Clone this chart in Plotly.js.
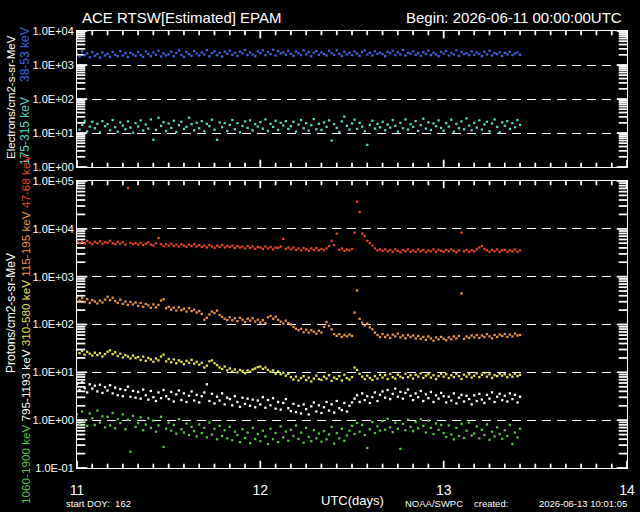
<!DOCTYPE html>
<html><head><meta charset="utf-8">
<script src="https://cdn.plot.ly/plotly-3.0.1.min.js"></script>
<style>html,body{margin:0;padding:0;background:#000}#chart{width:640px;height:512px}</style>
</head><body><div id="chart"></div>
<script>
// Time base: samples every 20 minutes starting 2026-06-11 00:00 UTC (day 11)
const startDay = 11;
const stepDays = 1 / 72;

// log10 of differential flux
const elec38_53 = [
 3.36,3.25,3.40,3.29,3.34,3.23,3.38,3.27,3.32,3.22,3.37,3.28,
 3.33,3.24,3.39,3.30,3.26,3.41,3.28,3.35,3.23,3.36,3.31,3.27,
 3.38,3.29,3.24,3.40,3.33,3.26,3.37,3.30,3.42,3.25,3.34,3.28,
 3.31,3.39,3.26,3.35,3.43,3.29,3.24,3.38,3.32,3.27,3.41,3.34,
 3.28,3.37,3.31,3.44,3.26,3.35,3.40,3.29,3.36,3.25,3.39,3.33,
 3.42,3.30,3.36,3.27,3.39,3.34,3.44,3.29,3.37,3.31,3.26,3.40,
 3.35,3.43,3.29,3.38,3.32,3.45,3.28,3.41,3.34,3.37,3.30,3.42,
 3.33,3.27,3.40,3.35,3.29,3.43,3.31,3.38,3.26,3.36,3.41,3.30,
 3.37,3.32,3.28,3.42,3.35,3.30,3.44,3.33,3.27,3.39,3.31,3.36,
 3.29,3.40,3.34,3.27,3.38,3.43,3.31,3.36,3.28,3.41,3.33,3.37,
 3.32,3.26,3.39,3.35,3.42,3.29,3.37,3.31,3.44,3.28,3.36,3.33,
 3.40,3.30,3.35,3.27,3.38,3.33,3.42,3.29,3.36,3.31,3.26,3.39,
 3.34,3.41,3.28,3.36,3.31,3.43,3.27,3.38,3.32,3.35,3.29,3.40,
 3.30,3.37,3.33,3.26,3.39,3.31,3.42,3.28,3.35,3.32,3.38,3.27,
 3.36,3.31,3.39,3.29,3.34,3.37,3.30
];
const elec175_315 = [
 1.30,1.10,1.24,1.36,1.05,1.19,1.33,1.14,1.27,1.02,1.35,1.20,
 1.26,1.08,1.38,1.17,1.04,1.31,1.22,1.11,1.34,1.16,1.01,1.29,
 1.19,1.37,1.07,1.25,1.13,1.40,0.80,1.09,1.45,1.21,1.32,1.06,
 1.28,1.15,1.36,1.03,1.23,1.33,1.12,1.18,1.45,1.26,1.08,1.30,
 1.14,1.35,1.05,1.27,1.20,1.39,1.10,0.80,1.31,1.17,1.29,1.06,
 1.24,1.38,1.11,1.29,1.02,1.21,1.34,1.15,1.37,1.08,1.26,1.19,
 1.32,1.13,1.40,1.06,1.27,1.18,1.36,1.09,1.30,1.22,1.35,1.12,
 1.20,1.33,1.04,1.25,1.38,1.14,1.29,1.07,1.23,1.41,1.11,1.27,
 1.09,1.31,1.18,1.37,0.78,1.26,1.15,1.03,1.34,1.48,1.21,1.10,
 1.28,1.39,1.12,1.30,1.19,1.05,0.65,1.24,1.36,1.13,1.27,1.17,
 1.33,1.08,1.25,1.16,1.38,1.21,1.04,1.30,1.14,1.40,1.10,1.26,
 1.18,1.35,1.06,1.23,1.42,1.13,1.31,1.09,1.28,1.20,1.37,1.15,
 1.07,1.29,1.19,1.39,1.04,1.27,1.14,1.34,1.11,1.43,1.22,1.08,
 1.30,1.16,1.37,1.10,1.25,1.33,1.05,1.28,1.40,1.18,1.02,1.31,
 1.21,1.35,1.12,1.29,1.17,1.38,1.24
];
const prot47_68 = [
 3.74,3.70,3.73,3.69,3.75,3.71,3.68,3.73,3.70,3.74,3.69,3.72,
 3.71,3.75,3.70,3.68,3.73,3.69,3.72,3.67,4.85,3.71,3.68,3.70,
 3.67,3.71,3.66,3.69,3.72,3.67,3.65,3.70,3.81,3.68,3.64,3.68,
 3.65,3.69,3.64,3.67,3.63,3.68,3.65,3.62,3.67,3.64,3.68,3.63,
 3.66,3.62,3.65,3.61,3.66,3.63,3.60,3.65,3.62,3.66,3.61,3.64,
 3.62,3.65,3.60,3.64,3.61,3.63,3.59,3.64,3.60,3.63,3.58,3.62,
 3.61,3.58,3.63,3.59,3.62,3.57,3.61,3.60,3.63,3.79,3.58,3.61,
 3.57,3.61,3.56,3.59,3.55,3.60,3.57,3.54,3.59,3.56,3.60,3.55,
 3.58,3.55,3.59,3.64,3.75,3.66,3.90,3.56,3.59,3.54,3.57,3.55,
 3.58,3.92,4.57,4.35,3.90,3.85,3.75,3.70,3.65,3.59,3.55,3.57,
 3.54,3.57,3.53,3.56,3.52,3.57,3.54,3.51,3.56,3.53,3.57,3.52,
 3.55,3.52,3.57,3.53,3.56,3.51,3.55,3.53,3.57,3.52,3.56,3.54,
 3.52,3.56,3.53,3.57,3.54,3.51,3.55,3.92,3.53,3.56,3.52,3.55,
 3.53,3.57,3.61,3.64,3.58,3.55,3.52,3.56,3.53,3.57,3.52,3.55,
 3.56,3.52,3.55,3.53,3.57,3.52,3.55
];
const prot115_195 = [
 2.57,2.50,2.55,2.47,2.53,2.45,2.51,2.48,2.44,2.50,2.46,2.52,
 2.58,2.51,2.56,2.49,2.45,2.52,2.43,2.48,2.41,2.47,2.42,2.46,
 2.39,2.45,2.37,2.43,2.40,2.35,2.42,2.36,2.41,2.50,2.53,2.34,
 2.37,2.31,2.35,2.29,2.36,2.30,2.33,2.27,2.34,2.28,2.31,2.25,
 2.28,2.22,2.10,2.14,2.21,2.27,2.24,2.29,2.20,2.16,2.12,2.09,
 2.15,2.09,2.13,2.07,2.14,2.10,2.05,2.12,2.08,2.13,2.06,2.10,
 2.04,2.09,2.03,2.15,2.18,2.12,2.16,2.10,2.06,2.02,2.08,2.03,
 2.00,1.95,1.91,1.88,1.91,1.84,1.89,1.83,1.88,1.85,1.81,1.87,
 1.83,1.95,2.05,1.97,1.90,1.80,1.76,1.80,1.74,1.78,1.75,1.79,
 1.76,2.25,2.71,2.12,2.04,1.98,2.02,1.94,1.90,1.83,1.78,1.74,
 1.80,1.74,1.78,1.72,1.79,1.75,1.81,1.73,1.77,1.71,1.78,1.74,
 1.77,1.71,1.76,1.70,1.74,1.68,1.75,1.71,1.66,1.73,1.69,1.74,
 1.70,1.67,1.73,1.69,1.75,1.71,1.76,2.65,1.70,1.75,1.72,1.77,
 1.73,1.78,1.72,1.77,1.74,1.80,1.75,1.71,1.78,1.74,1.79,1.76,
 1.80,1.74,1.79,1.75,1.81,1.77,1.78
];
const prot310_580 = [
 1.47,1.40,1.45,1.37,1.43,1.39,1.35,1.41,1.36,1.40,1.33,1.38,
 1.43,1.46,1.38,1.42,1.34,1.39,1.31,1.36,1.33,1.29,1.35,1.30,
 1.32,1.26,1.33,1.24,1.30,1.27,1.22,1.29,1.25,1.33,1.37,1.23,
 1.28,1.21,1.27,1.19,1.25,1.22,1.17,1.24,1.20,1.26,1.18,1.22,
 1.16,1.20,1.10,1.14,1.23,1.25,1.19,1.15,1.10,1.07,1.12,1.04,
 1.08,1.02,1.06,1.00,1.05,1.03,0.98,1.04,1.01,1.06,1.08,1.11,
 1.12,1.07,1.10,1.05,1.01,1.04,0.97,1.02,0.96,0.99,0.93,0.97,
 0.90,0.85,0.91,0.83,0.88,0.92,0.84,0.89,0.81,0.87,0.93,0.86,
 0.84,0.91,0.87,0.94,0.82,0.89,0.86,0.92,0.83,0.95,0.88,0.85,
 0.90,1.10,1.05,0.97,0.91,0.86,0.93,0.88,0.84,0.92,0.87,0.95,
 0.89,0.94,0.86,0.97,0.90,0.87,0.95,0.91,0.88,0.97,0.90,0.94,
 0.87,0.95,0.91,0.98,0.88,0.93,0.96,0.89,0.94,0.86,0.92,0.97,
 0.91,0.96,0.88,0.94,0.90,0.97,0.92,0.86,0.95,0.91,0.96,0.89,
 0.93,0.98,0.90,0.95,0.99,0.91,0.96,0.88,0.94,0.92,0.97,0.93,
 0.96,0.90,0.95,0.91,0.97,0.92,0.95
];
const prot795_1193 = [
 0.76,0.63,0.79,0.67,0.58,0.75,0.66,0.72,0.60,0.74,0.57,0.69,
 0.62,0.73,0.56,0.68,0.52,0.65,0.50,0.63,0.70,0.49,0.61,0.47,
 0.59,0.45,0.64,0.52,0.43,0.61,0.48,0.40,0.58,0.46,0.63,0.50,
 0.44,0.59,0.39,0.54,0.62,0.42,0.56,0.38,0.51,0.60,0.41,0.53,
 0.37,0.50,0.58,0.75,0.40,0.55,0.35,0.49,0.41,0.56,0.33,0.47,
 0.44,0.31,0.50,0.38,0.28,0.47,0.34,0.45,0.30,0.43,0.27,0.41,
 0.33,0.48,0.26,0.42,0.31,0.46,0.24,0.38,0.22,0.36,0.44,0.25,
 0.19,0.34,0.17,0.30,0.14,0.33,0.23,0.12,0.29,0.37,0.18,0.31,
 0.15,0.27,0.38,0.20,0.33,0.16,0.40,0.25,0.21,0.36,0.18,0.30,
 0.37,0.45,0.52,0.38,0.56,0.42,0.50,0.36,0.48,0.58,0.40,0.53,
 0.60,0.47,0.63,0.44,0.55,0.66,0.49,0.59,0.45,0.57,0.64,0.51,
 0.42,0.56,0.48,0.61,0.40,0.54,0.46,0.59,0.38,0.52,0.45,0.57,
 0.50,0.37,0.49,0.41,0.56,0.35,0.47,0.53,0.39,0.51,0.44,0.33,
 0.52,0.40,0.55,0.43,0.36,0.53,0.45,0.58,0.38,0.49,0.55,0.42,
 0.51,0.39,0.56,0.44,0.53,0.37,0.49
];
const prot1060_1900 = [
 0.12,-0.08,0.18,-0.02,-0.12,0.14,0.04,-0.10,0.20,-0.05,0.08,-0.15,
 0.07,-0.11,0.15,-0.17,0.02,-0.06,0.12,-0.19,0.01,-0.66,0.09,-0.14,
 -0.06,0.06,-0.21,-0.09,0.04,-0.16,-0.01,-0.24,-0.11,0.07,-0.56,-0.18,
 -0.05,-0.22,-0.10,-0.28,0.02,-0.19,-0.26,-0.07,-0.31,-0.14,-0.23,-0.34,
 -0.09,-0.27,-0.16,-0.36,-0.05,-0.30,-0.18,-0.40,-0.12,-0.33,-0.21,-0.38,
 -0.14,-0.42,-0.24,-0.31,-0.46,-0.19,-0.37,-0.26,-0.48,-0.16,-0.39,-0.29,
 -0.44,-0.22,-0.34,-0.50,-0.18,-0.40,-0.27,-0.46,-0.13,-0.36,-0.24,-0.43,
 -0.20,-0.33,-0.11,-0.39,-0.26,-0.47,-0.16,-0.35,-0.44,-0.21,-0.38,-0.28,
 -0.45,-0.23,-0.40,-0.30,-0.14,-0.49,-0.27,-0.38,-0.18,-0.43,-0.32,-0.22,
 -0.12,-0.29,-0.06,-0.24,-0.10,-0.31,-0.58,-0.19,-0.04,-0.27,-0.13,-0.22,
 -0.02,-0.20,0.03,-0.15,-0.25,-0.05,-0.18,-0.60,-0.08,-0.21,0.01,-0.14,
 -0.23,-0.04,-0.17,0.02,-0.12,-0.26,-0.01,-0.16,-0.29,-0.07,-0.20,-0.10,
 -0.27,-0.35,-0.11,-0.30,-0.40,-0.16,-0.33,-0.08,-0.37,-0.22,-0.05,-0.32,
 -0.28,-0.13,-0.38,-0.20,-0.31,-0.09,-0.41,-0.24,-0.34,-0.15,-0.29,-0.39,
 -0.21,-0.33,-0.10,-0.50,-0.26,-0.36,-0.18
];

const xTickVals = [11, 12, 13, 14];
const xTickText = ['11', '12', '13', '14'];
const xMinorPerDay = 12; // a tick every 2 hours
const elecTickVals = [1, 10, 100, 1000, 10000];
const elecTickText = ['1.0E+00', '1.0E+01', '1.0E+02', '1.0E+03', '1.0E+04'];
const protTickVals = [0.1, 1, 10, 100, 1000, 10000, 100000];
const protTickText = ['1.0E-01', '1.0E+00', '1.0E+01', '1.0E+02', '1.0E+03', '1.0E+04', '1.0E+05'];

const titleLeft = 'ACE RTSW[Estimated] EPAM';
const titleRight = 'Begin: 2026-06-11 00:00:00UTC';
const elecUnits = 'Electrons/cm2-s-sr-MeV';
const protUnits = 'Protons/cm2-s-sr-MeV';
const xLabel = 'UTC(days)';
const footDoy = 'start DOY:  162';
const footOrg = 'NOAA/SWPC';
const footCreated = 'created:';
const footDate = '2026-06-13 10:01:05';

const colors = {
  e38: '#3c64e6', e175: '#50dcc8',
  p47: '#e8461e', p115: '#f0963c', p310: '#e6e646', p795: '#ffffff', p1060: '#50c83c'
};

const times = elec38_53.map((_, i) => startDay + i * stepDays);

// geometry in pixels
const W = 640, H = 512, mL = 77, mR = 13, mT = 31, mB = 44;
const plotW = W - mL - mR, plotH = H - mT - mB;
const px = x => (x - mL) / plotW;
const py = y => (H - mB - y) / plotH;
const botDomain = [0, py(181)];
const topDomain = [py(167), 1];
const xRange = [xTickVals[0], xTickVals[xTickVals.length - 1]];
const botRange = [Math.log10(protTickVals[0]), Math.log10(protTickVals[protTickVals.length - 1])];
const topRange = [Math.log10(elecTickVals[0]), Math.log10(elecTickVals[elecTickVals.length - 1])];

function trace(vals, color, xa, ya) {
  return {
    type: 'scatter', mode: 'markers',
    x: times, y: vals.map(v => Math.pow(10, v)),
    xaxis: xa, yaxis: ya,
    marker: { size: 2.3, color: color, symbol: 'square', line: { width: 0 } },
    hoverinfo: 'skip'
  };
}

// axis tick marks (inside, on all four sides), built as rows of tiny filled squares
function tickDots(decades, range, domain, xa, ya) {
  const x = [], y = [];
  const dayPerPx = (xRange[1] - xRange[0]) / plotW;
  const decPerPx = (range[1] - range[0]) / ((domain[1] - domain[0]) * plotH);
  decades.forEach((d, k) => {
    const vals = [d];
    if (k < decades.length - 1) for (let m = 2; m <= 9; m++) vals.push(m * d);
    vals.forEach((v, j) => {
      const len = j === 0 ? 10 : 8;
      for (let p = 0.5; p < len; p += 1) {
        x.push(xRange[0] + p * dayPerPx, xRange[1] - p * dayPerPx);
        y.push(v, v);
      }
    });
  });
  const n = (xRange[1] - xRange[0]) * xMinorPerDay;
  for (let j = 0; j <= n; j++) {
    const v = xRange[0] + j / xMinorPerDay;
    const len = j % xMinorPerDay === 0 ? 7 : 4;
    for (let p = 0.5; p < len; p += 1) {
      x.push(v, v);
      y.push(Math.pow(10, range[0] + p * decPerPx), Math.pow(10, range[1] - p * decPerPx));
    }
  }
  return {
    type: 'scatter', mode: 'markers', x: x, y: y, xaxis: xa, yaxis: ya, cliponaxis: false,
    marker: { symbol: 'square', size: 1.6, color: '#ffffff', line: { width: 0 } },
    hoverinfo: 'skip'
  };
}

const data = [
  tickDots(protTickVals, botRange, botDomain, 'x', 'y'),
  tickDots(elecTickVals, topRange, topDomain, 'x2', 'y2'),
  trace(elec38_53, colors.e38, 'x2', 'y2'),
  trace(elec175_315, colors.e175, 'x2', 'y2'),
  trace(prot47_68, colors.p47, 'x', 'y'),
  trace(prot115_195, colors.p115, 'x', 'y'),
  trace(prot310_580, colors.p310, 'x', 'y'),
  trace(prot795_1193, colors.p795, 'x', 'y'),
  trace(prot1060_1900, colors.p1060, 'x', 'y')
];

const xMain = {
  range: xRange, tickmode: 'array', tickvals: xTickVals, ticktext: xTickText,
  showline: true, linecolor: '#fff', linewidth: 1, mirror: true, ticks: '',
  showgrid: false, zeroline: false, tickfont: { size: 14, color: '#fff' }, ticklabelstandoff: 9
};
function yMain(domain, range, tv, tt) {
  return {
    domain: domain, type: 'log', range: range,
    tickmode: 'array', tickvals: tv, ticktext: tt,
    showline: true, linecolor: '#fff', linewidth: 1, mirror: true, ticks: '',
    showgrid: true, gridcolor: '#fff', gridwidth: 1, griddash: '9px,6px',
    zeroline: false, tickfont: { size: 11, color: '#fff' }
  };
}

const ann = (text, x, y, opts) => Object.assign({
  text: text, xref: 'paper', yref: 'paper', x: px(x), y: py(y),
  showarrow: false, xanchor: 'center', yanchor: 'middle',
  font: { size: 11, color: '#fff' }
}, opts || {});
const span = (c, t) => '<span style="color:' + c + '">' + t + '</span>';

const layout = {
  width: W, height: H,
  margin: { l: mL, r: mR, t: mT, b: mB, pad: 0 },
  paper_bgcolor: '#000', plot_bgcolor: '#000',
  font: { family: 'Liberation Sans, DejaVu Sans, sans-serif', color: '#fff' },
  showlegend: false,
  xaxis: Object.assign({}, xMain, { domain: [0, 1], anchor: 'y' }),
  xaxis2: Object.assign({}, xMain, { domain: [0, 1], anchor: 'y2', showticklabels: false }),
  yaxis: Object.assign(yMain(botDomain, botRange, protTickVals, protTickText), { anchor: 'x' }),
  yaxis2: Object.assign(yMain(topDomain, topRange, elecTickVals, elecTickText), { anchor: 'x2' }),
  annotations: [
    ann(titleLeft, 80, 18, { xanchor: 'left', font: { size: 15, color: '#fff' } }),
    ann(titleRight, 624, 18, { xanchor: 'right', font: { size: 15, color: '#fff' } }),
    ann(elecUnits, 11, 97, { textangle: -90, font: { size: 11.5, color: '#fff' } }),
    ann(span(colors.e38, '38-53 keV'), 25, 55, { textangle: -90, font: { size: 12 } }),
    ann(span(colors.e175, '175-315 keV'), 25, 131, { textangle: -90, font: { size: 12 } }),
    ann(protUnits, 11, 313, { textangle: -90, font: { size: 12, color: '#fff' } }),
    ann(span(colors.p1060, '1060-1900 keV') + ' ' + span(colors.p795, '795-1193 keV') + ' ' +
        span(colors.p310, '310-580 keV') + ' ' + span(colors.p115, '115-195 keV') + ' ' +
        span(colors.p47, '47-68 keV'), 25, 330, { textangle: -90, font: { size: 11.7 } }),
    ann(xLabel, 352, 500, { font: { size: 13, color: '#fff' } }),
    ann(footDoy, 64, 503, { xanchor: 'left', font: { size: 9.5, color: '#fff' } }),
    ann(footOrg, 403, 503, { xanchor: 'left', font: { size: 9.5, color: '#fff' } }),
    ann(footCreated, 472, 503, { xanchor: 'left', font: { size: 9.5, color: '#fff' } }),
    ann(footDate, 629, 503, { xanchor: 'right', font: { size: 9.5, color: '#fff' } })
  ]
};

Plotly.newPlot('chart', data, layout, { staticPlot: true, displayModeBar: false });
</script>
</body></html>
